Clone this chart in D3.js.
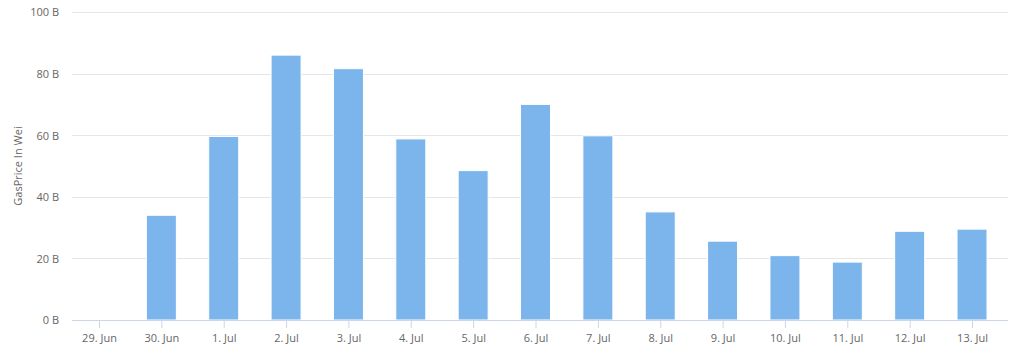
<!DOCTYPE html>
<html>
<head>
<meta charset="utf-8">
<script src="https://cdn.jsdelivr.net/npm/d3@7"></script>
<style>
  body { margin: 0; background: #fff; }
  #chart text { font-family: "Open Sans", "DejaVu Sans", sans-serif; }
</style>
</head>
<body>
<div id="chart"></div>
<script>
const width = 1024;
const height = 364;

// data (gas price in billions of wei)
const days = ["29. Jun", "30. Jun", "1. Jul", "2. Jul", "3. Jul", "4. Jul", "5. Jul",
  "6. Jul", "7. Jul", "8. Jul", "9. Jul", "10. Jul", "11. Jul", "12. Jul", "13. Jul"];
const gasPrice = [0, 34.0, 59.6, 86.0, 81.6, 58.8, 48.5, 70.0, 59.8, 35.1, 25.6, 20.9, 18.8, 28.8, 29.5];
const yTicks = [0, 20, 40, 60, 80, 100];

const plot = {left: 72, right: 1008, top: 12, bottom: 320};

const x = d3.scaleLinear()
    .domain([-0.433, days.length - 1 + 0.577])
    .range([plot.left, plot.right]);

const y = d3.scaleLinear()
    .domain([0, 100])
    .range([plot.bottom, plot.top]);

const barWidth = 30;

const svg = d3.select("#chart")
    .append("svg")
    .attr("width", width)
    .attr("height", height)
    .attr("viewBox", [0, 0, width, height]);

// y grid + labels
const yAxis = svg.append("g")
    .attr("transform", `translate(${plot.left},0)`)
    .call(d3.axisLeft(y)
        .tickValues(yTicks)
        .tickSize(-(plot.right - plot.left))
        .tickPadding(13)
        .tickFormat(d => d + " B"));
yAxis.select(".domain").remove();
yAxis.selectAll(".tick line")
    .attr("stroke", "#e6e6e6")
    .attr("shape-rendering", "crispEdges");
yAxis.selectAll(".tick text")
    .attr("fill", "#666")
    .attr("font-size", 11)
    .attr("dy", "0.35em");

svg.append("text")
    .attr("transform", `translate(22,${(plot.top + plot.bottom) / 2}) rotate(-90)`)
    .attr("text-anchor", "middle")
    .attr("fill", "#666")
    .attr("font-size", 11)
    .text("GasPrice In Wei");

// bars
svg.append("g")
    .selectAll("rect")
    .data(gasPrice)
    .join("rect")
    .attr("x", (d, i) => x(i) - barWidth / 2)
    .attr("y", d => y(d))
    .attr("width", barWidth)
    .attr("height", d => y(0) - y(d))
    .attr("fill", "#7cb5ec")
    .attr("stroke", d => d > 0 ? "#fff" : "none")
    .attr("stroke-width", 1);

// x axis
const xAxis = svg.append("g")
    .attr("transform", `translate(0,${plot.bottom})`)
    .call(d3.axisBottom(x)
        .tickValues(d3.range(days.length))
        .tickSize(8)
        .tickPadding(6)
        .tickFormat(i => days[i]));
xAxis.select(".domain")
    .attr("stroke", "#ccd6eb")
    .attr("d", `M${plot.left},0.5H${plot.right}`);
xAxis.selectAll(".tick line")
    .attr("stroke", "#ccd6eb");
xAxis.selectAll(".tick text")
    .attr("fill", "#666")
    .attr("font-size", 11);
</script>
</body>
</html>
